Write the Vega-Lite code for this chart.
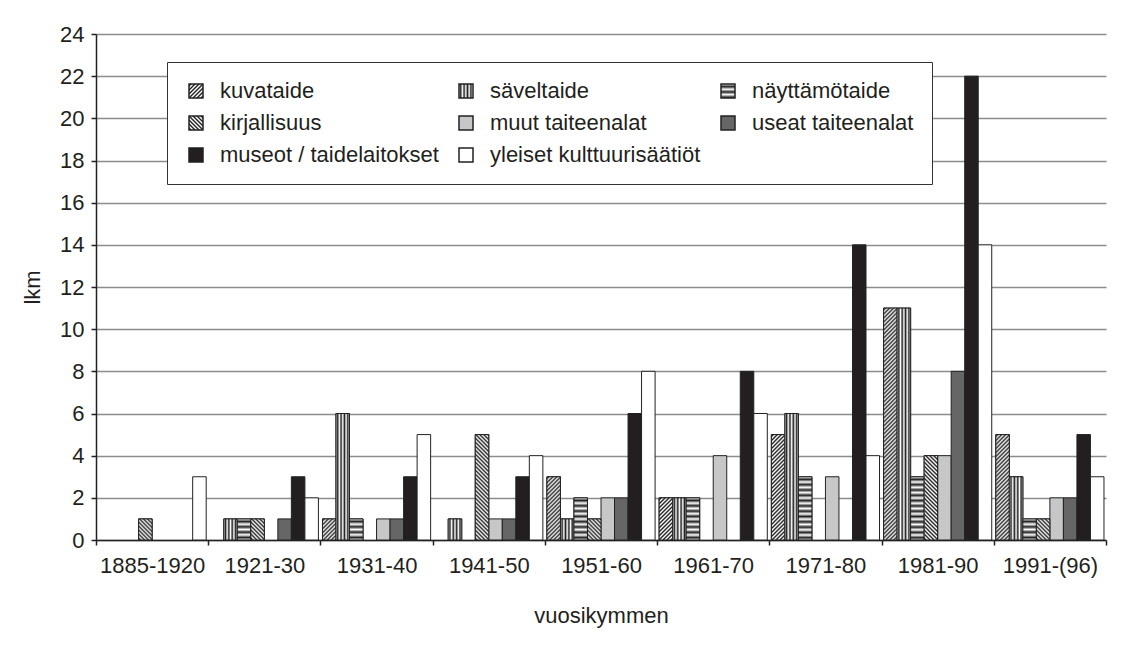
{
  "$schema": "https://vega.github.io/schema/vega-lite/v6.json",
  "width": 1010,
  "height": 506,
  "autosize": {"type": "none"},
  "padding": {"left": 96, "top": 34, "right": 22, "bottom": 107},
  "background": "white",
  "params": [
    {"name": "stripes", "value": [
      {"offset":0,"color":"#fff"},{"offset":0.005,"color":"#222"},{"offset":0.01,"color":"#fff"},{"offset":0.015,"color":"#222"},{"offset":0.02,"color":"#fff"},{"offset":0.025,"color":"#222"},{"offset":0.03,"color":"#fff"},{"offset":0.035,"color":"#222"},{"offset":0.04,"color":"#fff"},{"offset":0.045,"color":"#222"},
      {"offset":0.05,"color":"#fff"},{"offset":0.055,"color":"#222"},{"offset":0.06,"color":"#fff"},{"offset":0.065,"color":"#222"},{"offset":0.07,"color":"#fff"},{"offset":0.075,"color":"#222"},{"offset":0.08,"color":"#fff"},{"offset":0.085,"color":"#222"},{"offset":0.09,"color":"#fff"},{"offset":0.095,"color":"#222"},
      {"offset":0.1,"color":"#fff"},{"offset":0.105,"color":"#222"},{"offset":0.11,"color":"#fff"},{"offset":0.115,"color":"#222"},{"offset":0.12,"color":"#fff"},{"offset":0.125,"color":"#222"},{"offset":0.13,"color":"#fff"},{"offset":0.135,"color":"#222"},{"offset":0.14,"color":"#fff"},{"offset":0.145,"color":"#222"},
      {"offset":0.15,"color":"#fff"},{"offset":0.155,"color":"#222"},{"offset":0.16,"color":"#fff"},{"offset":0.165,"color":"#222"},{"offset":0.17,"color":"#fff"},{"offset":0.175,"color":"#222"},{"offset":0.18,"color":"#fff"},{"offset":0.185,"color":"#222"},{"offset":0.19,"color":"#fff"},{"offset":0.195,"color":"#222"},
      {"offset":0.2,"color":"#fff"},{"offset":0.205,"color":"#222"},{"offset":0.21,"color":"#fff"},{"offset":0.215,"color":"#222"},{"offset":0.22,"color":"#fff"},{"offset":0.225,"color":"#222"},{"offset":0.23,"color":"#fff"},{"offset":0.235,"color":"#222"},{"offset":0.24,"color":"#fff"},{"offset":0.245,"color":"#222"},
      {"offset":0.25,"color":"#fff"},{"offset":0.255,"color":"#222"},{"offset":0.26,"color":"#fff"},{"offset":0.265,"color":"#222"},{"offset":0.27,"color":"#fff"},{"offset":0.275,"color":"#222"},{"offset":0.28,"color":"#fff"},{"offset":0.285,"color":"#222"},{"offset":0.29,"color":"#fff"},{"offset":0.295,"color":"#222"},
      {"offset":0.3,"color":"#fff"},{"offset":0.305,"color":"#222"},{"offset":0.31,"color":"#fff"},{"offset":0.315,"color":"#222"},{"offset":0.32,"color":"#fff"},{"offset":0.325,"color":"#222"},{"offset":0.33,"color":"#fff"},{"offset":0.335,"color":"#222"},{"offset":0.34,"color":"#fff"},{"offset":0.345,"color":"#222"},
      {"offset":0.35,"color":"#fff"},{"offset":0.355,"color":"#222"},{"offset":0.36,"color":"#fff"},{"offset":0.365,"color":"#222"},{"offset":0.37,"color":"#fff"},{"offset":0.375,"color":"#222"},{"offset":0.38,"color":"#fff"},{"offset":0.385,"color":"#222"},{"offset":0.39,"color":"#fff"},{"offset":0.395,"color":"#222"},
      {"offset":0.4,"color":"#fff"},{"offset":0.405,"color":"#222"},{"offset":0.41,"color":"#fff"},{"offset":0.415,"color":"#222"},{"offset":0.42,"color":"#fff"},{"offset":0.425,"color":"#222"},{"offset":0.43,"color":"#fff"},{"offset":0.435,"color":"#222"},{"offset":0.44,"color":"#fff"},{"offset":0.445,"color":"#222"},
      {"offset":0.45,"color":"#fff"},{"offset":0.455,"color":"#222"},{"offset":0.46,"color":"#fff"},{"offset":0.465,"color":"#222"},{"offset":0.47,"color":"#fff"},{"offset":0.475,"color":"#222"},{"offset":0.48,"color":"#fff"},{"offset":0.485,"color":"#222"},{"offset":0.49,"color":"#fff"},{"offset":0.495,"color":"#222"},
      {"offset":0.5,"color":"#fff"},{"offset":0.505,"color":"#222"},{"offset":0.51,"color":"#fff"},{"offset":0.515,"color":"#222"},{"offset":0.52,"color":"#fff"},{"offset":0.525,"color":"#222"},{"offset":0.53,"color":"#fff"},{"offset":0.535,"color":"#222"},{"offset":0.54,"color":"#fff"},{"offset":0.545,"color":"#222"},
      {"offset":0.55,"color":"#fff"},{"offset":0.555,"color":"#222"},{"offset":0.56,"color":"#fff"},{"offset":0.565,"color":"#222"},{"offset":0.57,"color":"#fff"},{"offset":0.575,"color":"#222"},{"offset":0.58,"color":"#fff"},{"offset":0.585,"color":"#222"},{"offset":0.59,"color":"#fff"},{"offset":0.595,"color":"#222"},
      {"offset":0.6,"color":"#fff"},{"offset":0.605,"color":"#222"},{"offset":0.61,"color":"#fff"},{"offset":0.615,"color":"#222"},{"offset":0.62,"color":"#fff"},{"offset":0.625,"color":"#222"},{"offset":0.63,"color":"#fff"},{"offset":0.635,"color":"#222"},{"offset":0.64,"color":"#fff"},{"offset":0.645,"color":"#222"},
      {"offset":0.65,"color":"#fff"},{"offset":0.655,"color":"#222"},{"offset":0.66,"color":"#fff"},{"offset":0.665,"color":"#222"},{"offset":0.67,"color":"#fff"},{"offset":0.675,"color":"#222"},{"offset":0.68,"color":"#fff"},{"offset":0.685,"color":"#222"},{"offset":0.69,"color":"#fff"},{"offset":0.695,"color":"#222"},
      {"offset":0.7,"color":"#fff"},{"offset":0.705,"color":"#222"},{"offset":0.71,"color":"#fff"},{"offset":0.715,"color":"#222"},{"offset":0.72,"color":"#fff"},{"offset":0.725,"color":"#222"},{"offset":0.73,"color":"#fff"},{"offset":0.735,"color":"#222"},{"offset":0.74,"color":"#fff"},{"offset":0.745,"color":"#222"},
      {"offset":0.75,"color":"#fff"},{"offset":0.755,"color":"#222"},{"offset":0.76,"color":"#fff"},{"offset":0.765,"color":"#222"},{"offset":0.77,"color":"#fff"},{"offset":0.775,"color":"#222"},{"offset":0.78,"color":"#fff"},{"offset":0.785,"color":"#222"},{"offset":0.79,"color":"#fff"},{"offset":0.795,"color":"#222"},
      {"offset":0.8,"color":"#fff"},{"offset":0.805,"color":"#222"},{"offset":0.81,"color":"#fff"},{"offset":0.815,"color":"#222"},{"offset":0.82,"color":"#fff"},{"offset":0.825,"color":"#222"},{"offset":0.83,"color":"#fff"},{"offset":0.835,"color":"#222"},{"offset":0.84,"color":"#fff"},{"offset":0.845,"color":"#222"},
      {"offset":0.85,"color":"#fff"},{"offset":0.855,"color":"#222"},{"offset":0.86,"color":"#fff"},{"offset":0.865,"color":"#222"},{"offset":0.87,"color":"#fff"},{"offset":0.875,"color":"#222"},{"offset":0.88,"color":"#fff"},{"offset":0.885,"color":"#222"},{"offset":0.89,"color":"#fff"},{"offset":0.895,"color":"#222"},
      {"offset":0.9,"color":"#fff"},{"offset":0.905,"color":"#222"},{"offset":0.91,"color":"#fff"},{"offset":0.915,"color":"#222"},{"offset":0.92,"color":"#fff"},{"offset":0.925,"color":"#222"},{"offset":0.93,"color":"#fff"},{"offset":0.935,"color":"#222"},{"offset":0.94,"color":"#fff"},{"offset":0.945,"color":"#222"},
      {"offset":0.95,"color":"#fff"},{"offset":0.955,"color":"#222"},{"offset":0.96,"color":"#fff"},{"offset":0.965,"color":"#222"},{"offset":0.97,"color":"#fff"},{"offset":0.975,"color":"#222"},{"offset":0.98,"color":"#fff"},{"offset":0.985,"color":"#222"},{"offset":0.99,"color":"#fff"},{"offset":0.995,"color":"#222"},
      {"offset":1,"color":"#fff"}
    ]}
  ],
  "data": {"values": [
    {"d":"1885-1920","cat":"kuvataide","n":0},{"d":"1885-1920","cat":"säveltaide","n":0},{"d":"1885-1920","cat":"näyttämötaide","n":0},{"d":"1885-1920","cat":"kirjallisuus","n":1},{"d":"1885-1920","cat":"muut taiteenalat","n":0},{"d":"1885-1920","cat":"useat taiteenalat","n":0},{"d":"1885-1920","cat":"museot / taidelaitokset","n":0},{"d":"1885-1920","cat":"yleiset kulttuurisäätiöt","n":3},
    {"d":"1921-30","cat":"kuvataide","n":0},{"d":"1921-30","cat":"säveltaide","n":1},{"d":"1921-30","cat":"näyttämötaide","n":1},{"d":"1921-30","cat":"kirjallisuus","n":1},{"d":"1921-30","cat":"muut taiteenalat","n":0},{"d":"1921-30","cat":"useat taiteenalat","n":1},{"d":"1921-30","cat":"museot / taidelaitokset","n":3},{"d":"1921-30","cat":"yleiset kulttuurisäätiöt","n":2},
    {"d":"1931-40","cat":"kuvataide","n":1},{"d":"1931-40","cat":"säveltaide","n":6},{"d":"1931-40","cat":"näyttämötaide","n":1},{"d":"1931-40","cat":"kirjallisuus","n":0},{"d":"1931-40","cat":"muut taiteenalat","n":1},{"d":"1931-40","cat":"useat taiteenalat","n":1},{"d":"1931-40","cat":"museot / taidelaitokset","n":3},{"d":"1931-40","cat":"yleiset kulttuurisäätiöt","n":5},
    {"d":"1941-50","cat":"kuvataide","n":0},{"d":"1941-50","cat":"säveltaide","n":1},{"d":"1941-50","cat":"näyttämötaide","n":0},{"d":"1941-50","cat":"kirjallisuus","n":5},{"d":"1941-50","cat":"muut taiteenalat","n":1},{"d":"1941-50","cat":"useat taiteenalat","n":1},{"d":"1941-50","cat":"museot / taidelaitokset","n":3},{"d":"1941-50","cat":"yleiset kulttuurisäätiöt","n":4},
    {"d":"1951-60","cat":"kuvataide","n":3},{"d":"1951-60","cat":"säveltaide","n":1},{"d":"1951-60","cat":"näyttämötaide","n":2},{"d":"1951-60","cat":"kirjallisuus","n":1},{"d":"1951-60","cat":"muut taiteenalat","n":2},{"d":"1951-60","cat":"useat taiteenalat","n":2},{"d":"1951-60","cat":"museot / taidelaitokset","n":6},{"d":"1951-60","cat":"yleiset kulttuurisäätiöt","n":8},
    {"d":"1961-70","cat":"kuvataide","n":2},{"d":"1961-70","cat":"säveltaide","n":2},{"d":"1961-70","cat":"näyttämötaide","n":2},{"d":"1961-70","cat":"kirjallisuus","n":0},{"d":"1961-70","cat":"muut taiteenalat","n":4},{"d":"1961-70","cat":"useat taiteenalat","n":0},{"d":"1961-70","cat":"museot / taidelaitokset","n":8},{"d":"1961-70","cat":"yleiset kulttuurisäätiöt","n":6},
    {"d":"1971-80","cat":"kuvataide","n":5},{"d":"1971-80","cat":"säveltaide","n":6},{"d":"1971-80","cat":"näyttämötaide","n":3},{"d":"1971-80","cat":"kirjallisuus","n":0},{"d":"1971-80","cat":"muut taiteenalat","n":3},{"d":"1971-80","cat":"useat taiteenalat","n":0},{"d":"1971-80","cat":"museot / taidelaitokset","n":14},{"d":"1971-80","cat":"yleiset kulttuurisäätiöt","n":4},
    {"d":"1981-90","cat":"kuvataide","n":11},{"d":"1981-90","cat":"säveltaide","n":11},{"d":"1981-90","cat":"näyttämötaide","n":3},{"d":"1981-90","cat":"kirjallisuus","n":4},{"d":"1981-90","cat":"muut taiteenalat","n":4},{"d":"1981-90","cat":"useat taiteenalat","n":8},{"d":"1981-90","cat":"museot / taidelaitokset","n":22},{"d":"1981-90","cat":"yleiset kulttuurisäätiöt","n":14},
    {"d":"1991-(96)","cat":"kuvataide","n":5},{"d":"1991-(96)","cat":"säveltaide","n":3},{"d":"1991-(96)","cat":"näyttämötaide","n":1},{"d":"1991-(96)","cat":"kirjallisuus","n":1},{"d":"1991-(96)","cat":"muut taiteenalat","n":2},{"d":"1991-(96)","cat":"useat taiteenalat","n":2},{"d":"1991-(96)","cat":"museot / taidelaitokset","n":5},{"d":"1991-(96)","cat":"yleiset kulttuurisäätiöt","n":3}
  ]},
  "encoding": {
    "x": {
      "field": "d", "type": "nominal", "sort": null,
      "scale": {"paddingInner": 0, "paddingOuter": 0},
      "axis": {
        "title": "vuosikymmen", "labelAngle": 0, "tickBand": "extent", "tickSize": 5,
        "labelOverlap": false, "labelFontSize": 22, "labelPadding": 10,
        "titlePadding": 29, "titleFontSize": 22
      }
    },
    "xOffset": {
      "field": "cat", "type": "nominal", "sort": null,
      "scale": {
        "domain": ["kuvataide", "säveltaide", "näyttämötaide", "kirjallisuus", "muut taiteenalat", "useat taiteenalat", "museot / taidelaitokset", "yleiset kulttuurisäätiöt"],
        "paddingInner": 0, "paddingOuter": 0.15
      }
    },
    "y": {
      "field": "n", "type": "quantitative", "stack": null,
      "scale": {"domain": [0, 24], "nice": false},
      "axis": {
        "title": "lkm", "values": [0, 2, 4, 6, 8, 10, 12, 14, 16, 18, 20, 22, 24],
        "grid": true, "gridColor": "#8c8c8c", "gridWidth": 1.5, "tickSize": 5,
        "labelFontSize": 22, "labelPadding": 7, "titleFontSize": 22, "titlePadding": 15
      }
    }
  },
  "layer": [
    {
      "transform": [{"filter": "datum.n > 0"}],
      "mark": {"type": "bar", "stroke": "#222", "strokeWidth": 1},
      "encoding": {
        "fill": {
          "field": "cat", "type": "nominal",
          "scale": {
            "domain": ["kuvataide", "säveltaide", "näyttämötaide", "kirjallisuus", "muut taiteenalat", "useat taiteenalat", "museot / taidelaitokset", "yleiset kulttuurisäätiöt"],
            "range": [
              {"expr": "{gradient: 'linear', x1: 0, y1: 0, x2: 14.3, y2: 14.3, stops: stripes}"},
              {"expr": "{gradient: 'linear', x1: 0, y1: 0, x2: 24.3, y2: 0, stops: stripes}"},
              {"expr": "{gradient: 'linear', x1: 0, y1: 0, x2: 0.00001, y2: 37.9, stops: stripes}"},
              {"expr": "{gradient: 'linear', x1: 0, y1: 1, x2: 14.3, y2: -13.3, stops: stripes}"},
              "#c6c7c9", "#666666", "#231f20", "#ffffff"
            ]
          },
          "legend": {
            "title": null, "orient": "none", "legendX": 71, "legendY": 28,
            "columns": 3, "direction": "horizontal",
            "symbolType": "square", "symbolSize": 196,
            "labelFontSize": 22, "labelOffset": 13, "labelLimit": 400, "labelColor": "#231f20",
            "rowPadding": 10, "columnPadding": 16, "padding": 18,
            "strokeColor": "#333", "fillColor": "#ffffff"
          }
        }
      }
    },
    {
      "transform": [{"filter": "datum.n > 0 && (datum.cat == 'kuvataide' || datum.cat == 'kirjallisuus' || datum.cat == 'säveltaide' || datum.cat == 'näyttämötaide')"}],
      "mark": {
        "type": "bar", "stroke": "#222", "strokeWidth": 1,
        "fill": {"expr": "datum.cat == 'kuvataide' ? {gradient: 'linear', x1: 0, y1: 0, x2: 5440 / (185 + pow(scale('y', 0) - scale('y', datum.n), 2)), y2: 400 * (scale('y', 0) - scale('y', datum.n)) / (185 + pow(scale('y', 0) - scale('y', datum.n), 2)), stops: stripes} : datum.cat == 'kirjallisuus' ? {gradient: 'linear', x1: 0, y1: 1, x2: 5440 / (185 + pow(scale('y', 0) - scale('y', datum.n), 2)), y2: 1 - 400 * (scale('y', 0) - scale('y', datum.n)) / (185 + pow(scale('y', 0) - scale('y', datum.n), 2)), stops: stripes} : datum.cat == 'säveltaide' ? {gradient: 'linear', x1: 0, y1: 0, x2: 25, y2: 0, stops: stripes} : {gradient: 'linear', x1: 0, y1: 0, x2: 0.00001, y2: 530 / (scale('y', 0) - scale('y', datum.n)), stops: stripes}"}
      },
      "encoding": {}
    }
  ],
  "config": {
    "font": "Liberation Sans, Arial, sans-serif",
    "view": {"stroke": null},
    "axis": {
      "domainColor": "#222", "domainWidth": 1.5, "tickColor": "#222", "tickWidth": 1.5,
      "labelColor": "#231f20", "titleColor": "#231f20", "titleFontWeight": "normal",
      "labelFont": "Liberation Sans, Arial, sans-serif",
      "titleFont": "Liberation Sans, Arial, sans-serif"
    },
    "legend": {
      "labelFont": "Liberation Sans, Arial, sans-serif"
    }
  }
}
